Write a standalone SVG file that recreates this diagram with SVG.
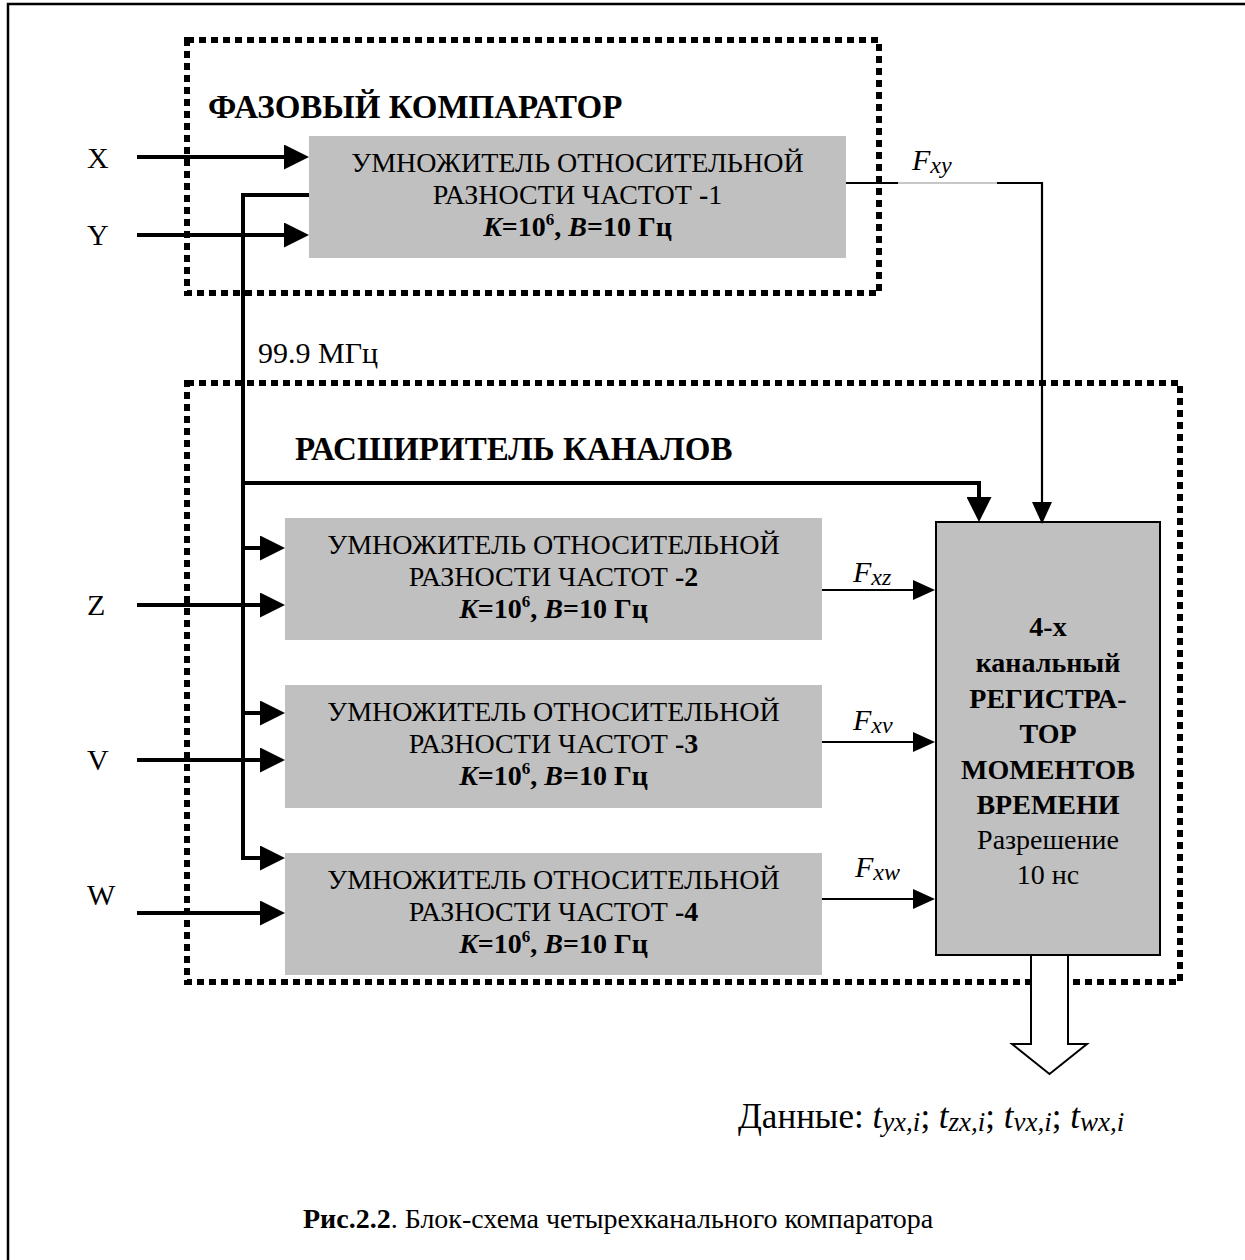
<svg xmlns="http://www.w3.org/2000/svg" width="1245" height="1260" viewBox="0 0 1245 1260">
<style>
  text { font-family: "Liberation Serif", "Times New Roman", serif; fill: #000; }
  .t { font-size: 28px; text-anchor: middle; }
  .tb { font-size: 28px; font-weight: bold; text-anchor: middle; }
  .lbl { font-size: 30px; }
  .cap { font-size: 28px; }
  .hdr { font-size: 33px; font-weight: bold; }
  .it { font-style: italic; }
  .blk { fill: #c0c0c0; stroke: none; }
  .dash { fill: none; stroke: #000; stroke-width: 6; stroke-dasharray: 7 5; }
  .thick { fill: none; stroke: #000; stroke-width: 4; }
  .thin { fill: none; stroke: #000; stroke-width: 2.2; }
</style>
<defs>
  <marker id="ah" viewBox="0 0 25 25" refX="0" refY="12.5" markerWidth="25" markerHeight="25" markerUnits="userSpaceOnUse" orient="auto">
    <path d="M0,0 L25,12.5 L0,25 z" fill="#000"/>
  </marker>
  <marker id="ahs" viewBox="0 0 22 20" refX="0" refY="10" markerWidth="22" markerHeight="20" markerUnits="userSpaceOnUse" orient="auto">
    <path d="M0,0 L22,10 L0,20 z" fill="#000"/>
  </marker>
</defs>
<rect x="0" y="0" width="1245" height="1260" fill="#fff"/>
<path d="M8,1260 V4 H1245" fill="none" stroke="#000" stroke-width="2.5"/>

<g id="phase-comparator">
  <rect class="dash" x="187" y="40" width="692" height="253"/>
  <text class="hdr" x="208" y="118">ФАЗОВЫЙ КОМПАРАТОР</text>
</g>
<g id="channel-expander">
  <rect class="dash" x="187" y="383" width="993" height="599"/>
  <text class="hdr" x="295" y="460">РАСШИРИТЕЛЬ КАНАЛОВ</text>
</g>

<g id="mult1">
  <rect class="blk" x="309" y="136" width="537" height="122"/>
  <text class="t" x="577.5" y="172">УМНОЖИТЕЛЬ ОТНОСИТЕЛЬНОЙ</text>
  <text class="t" x="577.5" y="204">РАЗНОСТИ ЧАСТОТ <tspan font-weight="bold">-</tspan>1</text>
  <text class="tb" x="577.5" y="236"><tspan class="it">K</tspan>=10<tspan dy="-11" font-size="17">6</tspan><tspan dy="11">, </tspan><tspan class="it">B</tspan>=10 Гц</text>
</g>
<g id="mult2">
  <rect class="blk" x="285" y="518" width="537" height="122"/>
  <text class="t" x="553.5" y="554">УМНОЖИТЕЛЬ ОТНОСИТЕЛЬНОЙ</text>
  <text class="t" x="553.5" y="586">РАЗНОСТИ ЧАСТОТ <tspan font-weight="bold">-2</tspan></text>
  <text class="tb" x="553.5" y="618"><tspan class="it">K</tspan>=10<tspan dy="-11" font-size="17">6</tspan><tspan dy="11">, </tspan><tspan class="it">B</tspan>=10 Гц</text>
</g>
<g id="mult3">
  <rect class="blk" x="285" y="685" width="537" height="123"/>
  <text class="t" x="553.5" y="721">УМНОЖИТЕЛЬ ОТНОСИТЕЛЬНОЙ</text>
  <text class="t" x="553.5" y="753">РАЗНОСТИ ЧАСТОТ <tspan font-weight="bold">-3</tspan></text>
  <text class="tb" x="553.5" y="785"><tspan class="it">K</tspan>=10<tspan dy="-11" font-size="17">6</tspan><tspan dy="11">, </tspan><tspan class="it">B</tspan>=10 Гц</text>
</g>
<g id="mult4">
  <rect class="blk" x="285" y="853" width="537" height="122"/>
  <text class="t" x="553.5" y="889">УМНОЖИТЕЛЬ ОТНОСИТЕЛЬНОЙ</text>
  <text class="t" x="553.5" y="921">РАЗНОСТИ ЧАСТОТ <tspan font-weight="bold">-4</tspan></text>
  <text class="tb" x="553.5" y="953"><tspan class="it">K</tspan>=10<tspan dy="-11" font-size="17">6</tspan><tspan dy="11">, </tspan><tspan class="it">B</tspan>=10 Гц</text>
</g>

<g id="register">
  <rect x="936" y="522" width="224" height="433" fill="#c0c0c0" stroke="#000" stroke-width="2"/>
  <text class="tb" x="1048" y="636">4-х</text>
  <text class="tb" x="1048" y="672">канальный</text>
  <text class="tb" x="1048" y="708">РЕГИСТРА-</text>
  <text class="tb" x="1048" y="743">ТОР</text>
  <text class="tb" x="1048" y="779">МОМЕНТОВ</text>
  <text class="tb" x="1048" y="814">ВРЕМЕНИ</text>
  <text class="t" x="1048" y="849">Разрешение</text>
  <text class="t" x="1048" y="884">10 нс</text>
</g>

<g id="inputs">
  <text class="lbl" x="87" y="168">X</text>
  <text class="lbl" x="87" y="245">Y</text>
  <text class="lbl" x="87" y="615">Z</text>
  <text class="lbl" x="87" y="770">V</text>
  <text class="lbl" x="87" y="905">W</text>
  <text class="lbl" x="258" y="363">99.9 МГц</text>
</g>

<g id="connectors">
  <path class="thick" d="M137,157 H284" marker-end="url(#ah)"/>
  <path class="thick" d="M137,235 H284" marker-end="url(#ah)"/>
  <path class="thick" d="M309,195 H243 V858 H260" marker-end="url(#ah)"/>
  <path class="thick" d="M243,548 H260" marker-end="url(#ah)"/>
  <path class="thick" d="M243,713 H260" marker-end="url(#ah)"/>
  <path class="thick" d="M137,605 H260" marker-end="url(#ah)"/>
  <path class="thick" d="M137,760 H260" marker-end="url(#ah)"/>
  <path class="thick" d="M137,913 H260" marker-end="url(#ah)"/>
  <path class="thick" d="M241,483 H979 V497" marker-end="url(#ah)"/>
  <path class="thin" d="M846,183 H898"/>
  <path d="M898,183 H997" fill="none" stroke="#c8c8c8" stroke-width="2"/>
  <path class="thin" d="M997,183 H1042 V502" marker-end="url(#ahs)"/>
  <path class="thin" d="M822,590 H913" marker-end="url(#ahs)"/>
  <path class="thin" d="M822,742 H913" marker-end="url(#ahs)"/>
  <path class="thin" d="M822,899 H913" marker-end="url(#ahs)"/>
  <polygon points="1031,955 1031,1044 1012,1044 1049.5,1074 1087,1044 1068,1044 1068,955" fill="#fff" stroke="#000" stroke-width="2"/>
  <text class="lbl it" x="912" y="170">F<tspan font-size="24" dy="3">xy</tspan></text>
  <text class="lbl it" x="853" y="582">F<tspan font-size="24" dy="3">xz</tspan></text>
  <text class="lbl it" x="853" y="730">F<tspan font-size="24" dy="3">xv</tspan></text>
  <text class="lbl it" x="855" y="877">F<tspan font-size="24" dy="3">xw</tspan></text>
</g>

<g id="output">
  <text x="738" y="1128" font-size="35">Данные: <tspan class="it">t</tspan><tspan class="it" font-size="27" dy="3">yx,i</tspan><tspan dy="-3">; </tspan><tspan class="it">t</tspan><tspan class="it" font-size="27" dy="3">zx,i</tspan><tspan dy="-3">; </tspan><tspan class="it">t</tspan><tspan class="it" font-size="27" dy="3">vx,i</tspan><tspan dy="-3">; </tspan><tspan class="it">t</tspan><tspan class="it" font-size="27" dy="3">wx,i</tspan></text>
</g>

<g id="caption">
  <text class="cap" x="303" y="1228"><tspan font-weight="bold">Рис.2.2</tspan>. Блок-схема четырехканального компаратора</text>
</g>
</svg>
